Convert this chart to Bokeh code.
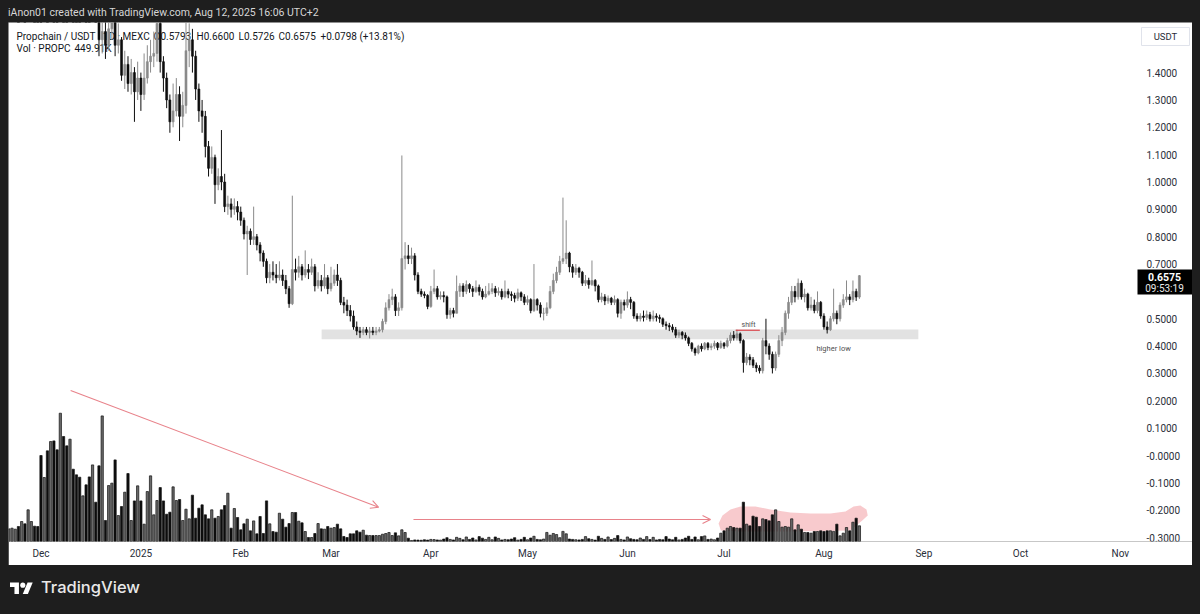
import pandas as pd
from bokeh.plotting import figure
from bokeh.models import (Range1d, FixedTicker, Arrow, OpenHead, Div, ColumnDataSource)
from bokeh.layouts import column
from bokeh.embed import file_html
from bokeh.resources import INLINE
from bokeh.core.properties import value

# ---------------- data (daily candles, 2024-11-21 .. 2025-08-12) ----------------
first_day = "2024-11-21"
first_open = 1.95
closes = [
    2.05, 2.25, 2.40, 2.30, 2.55, 2.45, 2.70, 2.85, 2.60, 2.50,
    2.35, 2.45, 2.20, 2.30, 2.10, 2.00, 2.15, 1.95, 1.90, 2.05,
    1.88, 1.82, 1.78, 1.86, 1.74, 1.70, 1.78, 1.65, 1.52, 1.55,
    1.50, 1.56, 1.60, 1.50, 1.52, 1.39, 1.43, 1.36, 1.40, 1.33,
    1.38, 1.32, 1.38, 1.44, 1.46, 1.47, 1.58, 1.44, 1.38, 1.30,
    1.22, 1.26, 1.32, 1.24, 1.28, 1.48, 1.52, 1.46, 1.34, 1.26,
    1.24, 1.13, 1.05, 1.09, 0.99, 1.02, 1.00, 0.91, 0.92, 0.90,
    0.91, 0.89, 0.86, 0.81, 0.82, 0.79, 0.80, 0.77, 0.74, 0.71,
    0.65, 0.67, 0.66, 0.65, 0.66, 0.64, 0.61, 0.555, 0.68, 0.67,
    0.69, 0.66, 0.68, 0.67, 0.69, 0.62, 0.64, 0.62, 0.65, 0.61,
    0.63, 0.66, 0.64, 0.56, 0.55, 0.53, 0.51, 0.47, 0.455, 0.45,
    0.46, 0.45, 0.455, 0.45, 0.455, 0.46, 0.49, 0.54, 0.57, 0.58,
    0.53, 0.54, 0.72, 0.73, 0.72, 0.73, 0.66, 0.60, 0.59, 0.585,
    0.545, 0.60, 0.61, 0.58, 0.585, 0.58, 0.515, 0.53, 0.52, 0.60,
    0.62, 0.60, 0.625, 0.61, 0.60, 0.615, 0.60, 0.58, 0.59, 0.60,
    0.61, 0.595, 0.60, 0.58, 0.60, 0.59, 0.585, 0.575, 0.595, 0.58,
    0.56, 0.57, 0.53, 0.57, 0.55, 0.52, 0.52, 0.54, 0.60, 0.64,
    0.67, 0.71, 0.72, 0.74, 0.69, 0.67, 0.685, 0.67, 0.63, 0.64,
    0.625, 0.64, 0.62, 0.57, 0.58, 0.565, 0.575, 0.56, 0.57, 0.52,
    0.56, 0.55, 0.57, 0.56, 0.51, 0.50, 0.51, 0.505, 0.515, 0.50,
    0.51, 0.505, 0.50, 0.48, 0.475, 0.47, 0.46, 0.44, 0.45, 0.44,
    0.43, 0.41, 0.39, 0.375, 0.40, 0.39, 0.41, 0.395, 0.40, 0.41,
    0.395, 0.41, 0.40, 0.42, 0.44, 0.43, 0.445, 0.42, 0.34, 0.36,
    0.35, 0.33, 0.32, 0.31, 0.42, 0.40, 0.37, 0.32, 0.37, 0.42,
    0.45, 0.52, 0.56, 0.60, 0.58, 0.63, 0.58, 0.59, 0.54, 0.55,
    0.53, 0.56, 0.51, 0.47, 0.46, 0.50, 0.52, 0.50, 0.55, 0.57,
    0.58, 0.57, 0.60, 0.5793, 0.6575,
]
highs = [
    2.15, 2.35, 2.55, 2.50, 2.70, 2.65, 2.85, 3.05, 2.90, 2.70,
    2.60, 2.58, 2.50, 2.42, 2.35, 2.18, 2.25, 2.20, 2.02, 2.12,
    2.08, 1.95, 1.90, 1.95, 1.90, 1.80, 1.86, 1.80, 1.68, 1.62,
    1.60, 1.62, 1.66, 1.62, 1.58, 1.53, 1.48, 1.46, 1.45, 1.42,
    1.44, 1.40, 1.47, 1.50, 1.52, 1.55, 1.66, 1.60, 1.46, 1.40,
    1.32, 1.36, 1.38, 1.35, 1.33, 1.60, 1.58, 1.56, 1.48, 1.36,
    1.30, 1.26, 1.15, 1.13, 1.10, 1.05, 1.19, 1.03, 0.95, 0.94,
    0.94, 0.93, 0.91, 0.87, 0.84, 0.83, 0.91, 0.81, 0.78, 0.75,
    0.72, 0.70, 0.71, 0.70, 0.71, 0.68, 0.66, 0.62, 0.95, 0.72,
    0.73, 0.70, 0.75, 0.70, 0.72, 0.70, 0.67, 0.66, 0.70, 0.66,
    0.69, 0.68, 0.70, 0.65, 0.58, 0.57, 0.55, 0.53, 0.49, 0.47,
    0.47, 0.47, 0.47, 0.47, 0.47, 0.47, 0.50, 0.56, 0.59, 0.61,
    0.59, 0.56, 1.097, 0.78, 0.77, 0.76, 0.74, 0.67, 0.61, 0.60,
    0.59, 0.62, 0.68, 0.62, 0.60, 0.60, 0.585, 0.54, 0.54, 0.658,
    0.63, 0.63, 0.64, 0.63, 0.62, 0.64, 0.625, 0.61, 0.62, 0.63,
    0.63, 0.62, 0.615, 0.61, 0.64, 0.61, 0.60, 0.595, 0.61, 0.60,
    0.59, 0.585, 0.575, 0.70, 0.575, 0.56, 0.54, 0.56, 0.62, 0.665,
    0.69, 0.73, 0.943, 0.86, 0.745, 0.70, 0.70, 0.69, 0.675, 0.66,
    0.65, 0.713, 0.645, 0.625, 0.595, 0.59, 0.585, 0.58, 0.585, 0.575,
    0.57, 0.57, 0.60, 0.58, 0.565, 0.52, 0.52, 0.53, 0.53, 0.525,
    0.53, 0.52, 0.515, 0.505, 0.49, 0.485, 0.48, 0.47, 0.46, 0.455,
    0.45, 0.435, 0.415, 0.395, 0.405, 0.41, 0.415, 0.415, 0.41, 0.42,
    0.415, 0.42, 0.415, 0.43, 0.45, 0.455, 0.46, 0.45, 0.425, 0.375,
    0.37, 0.36, 0.34, 0.33, 0.43, 0.50, 0.41, 0.38, 0.38, 0.44,
    0.47, 0.53, 0.58, 0.62, 0.62, 0.647, 0.64, 0.61, 0.595, 0.58,
    0.57, 0.60, 0.565, 0.52, 0.49, 0.51, 0.61, 0.53, 0.56, 0.59,
    0.64, 0.59, 0.64, 0.61, 0.66,
]
lows = [
    1.92, 2.00, 2.20, 2.22, 2.25, 2.38, 2.40, 2.62, 2.52, 2.40,
    2.25, 2.28, 2.10, 2.12, 2.02, 1.92, 1.95, 1.88, 1.80, 1.85,
    1.80, 1.74, 1.70, 1.74, 1.68, 1.64, 1.66, 1.61, 1.46, 1.47,
    1.45, 1.48, 1.52, 1.46, 1.47, 1.37, 1.34, 1.33, 1.32, 1.22,
    1.30, 1.26, 1.30, 1.36, 1.40, 1.42, 1.44, 1.40, 1.33, 1.27,
    1.18, 1.20, 1.24, 1.15, 1.20, 1.25, 1.42, 1.40, 1.30, 1.22,
    1.18, 1.09, 1.02, 1.03, 0.92, 0.97, 0.97, 0.89, 0.88, 0.87,
    0.88, 0.86, 0.84, 0.79, 0.66, 0.77, 0.77, 0.75, 0.71, 0.69,
    0.63, 0.63, 0.64, 0.63, 0.64, 0.62, 0.59, 0.54, 0.55, 0.64,
    0.65, 0.64, 0.65, 0.645, 0.66, 0.60, 0.61, 0.60, 0.61, 0.59,
    0.60, 0.62, 0.62, 0.55, 0.52, 0.51, 0.49, 0.46, 0.44, 0.43,
    0.44, 0.44, 0.428, 0.44, 0.44, 0.45, 0.45, 0.48, 0.53, 0.55,
    0.51, 0.51, 0.53, 0.68, 0.70, 0.70, 0.64, 0.59, 0.58, 0.575,
    0.535, 0.54, 0.59, 0.57, 0.57, 0.56, 0.50, 0.50, 0.505, 0.52,
    0.58, 0.58, 0.59, 0.595, 0.58, 0.595, 0.585, 0.57, 0.575, 0.585,
    0.59, 0.58, 0.585, 0.57, 0.575, 0.575, 0.565, 0.56, 0.565, 0.565,
    0.55, 0.55, 0.52, 0.525, 0.53, 0.505, 0.494, 0.51, 0.535, 0.59,
    0.63, 0.66, 0.70, 0.70, 0.67, 0.65, 0.66, 0.65, 0.62, 0.62,
    0.61, 0.62, 0.60, 0.56, 0.56, 0.55, 0.555, 0.55, 0.55, 0.505,
    0.50, 0.53, 0.54, 0.535, 0.50, 0.49, 0.49, 0.49, 0.495, 0.49,
    0.49, 0.49, 0.485, 0.47, 0.46, 0.455, 0.45, 0.43, 0.43, 0.425,
    0.42, 0.40, 0.38, 0.365, 0.37, 0.38, 0.385, 0.385, 0.385, 0.39,
    0.385, 0.39, 0.39, 0.395, 0.41, 0.42, 0.42, 0.41, 0.303, 0.33,
    0.33, 0.32, 0.305, 0.30, 0.30, 0.37, 0.35, 0.30, 0.31, 0.36,
    0.40, 0.44, 0.50, 0.55, 0.56, 0.57, 0.57, 0.56, 0.53, 0.53,
    0.52, 0.52, 0.50, 0.46, 0.446, 0.455, 0.49, 0.48, 0.49, 0.54,
    0.56, 0.55, 0.56, 0.565, 0.5726,
]
volumes_k = [
    362, 382, 353, 430, 573, 506, 908, 573, 439, 430,
    2464, 1834, 2598, 2865, 2884, 2627, 3677, 3009, 2741, 2932,
    2072, 1910, 1843, 1308, 1623, 1852, 2196, 1126, 2168, 3600,
    602, 1604, 1672, 2339, 744, 1002, 1413, 1948, 602, 1164,
    1595, 1164, 497, 1432, 1881, 764, 1175, 1546, 1164, 782,
    840, 1566, 1175, 1203, 602, 926, 649, 1328, 668, 955,
    1050, 764, 649, 908, 668, 717, 908, 1031, 1384, 382,
    946, 688, 335, 506, 640, 306, 591, 220, 717, 229,
    1164, 506, 286, 267, 811, 640, 411, 515, 831, 831,
    582, 535, 286, 115, 115, 229, 515, 362, 353, 430,
    382, 400, 497, 362, 144, 115, 220, 220, 306, 267,
    324, 182, 171, 171, 171, 171, 209, 229, 258, 171,
    248, 162, 335, 258, 95, 29,
    45, 40, 35, 50, 40, 60, 55, 45, 40, 70,
    110, 60, 45, 120, 90, 50, 130, 60, 100, 45,
    140, 95, 60, 120, 50, 130, 90, 45, 60, 50,
    70, 110, 40, 60, 120, 50, 100, 150, 60, 50,
    70, 260, 180, 230, 200, 110, 290, 220, 70, 60,
    50, 45, 60, 140, 80, 60, 40, 150, 90, 60,
    130, 55, 90, 170, 60, 45, 130, 80, 60, 50,
    100, 60, 140, 55, 120, 45, 60, 50, 140, 70,
    50, 120, 45, 60, 100, 150, 60, 130, 50, 140,
    160, 60, 70, 50, 100,
    238, 306, 382, 430, 401, 382, 382, 1127, 497, 449,
    726, 697, 430, 649, 630, 592, 764, 907, 573, 411,
    430, 411, 649, 334, 477, 353, 258, 258, 239, 287,
    287, 306, 287, 306, 306, 290, 497, 162, 239, 401,
    306, 553, 668, 449.91,
]
month_ticks = ["2024-12-01", "2025-01-01", "2025-02-01", "2025-03-01", "2025-04-01",
               "2025-05-01", "2025-06-01", "2025-07-01", "2025-08-01", "2025-09-01",
               "2025-10-01", "2025-11-01"]
month_labels = ["Dec", "2025", "Feb", "Mar", "Apr", "May", "Jun", "Jul", "Aug", "Sep",
                "Oct", "Nov"]
price_ticks = [1.4, 1.3, 1.2, 1.1, 1.0, 0.9, 0.8, 0.7, 0.5, 0.4, 0.3, 0.2, 0.1, 0.0,
               -0.1, -0.2, -0.3]
price_labels = ["1.4000", "1.3000", "1.2000", "1.1000", "1.0000", "0.9000", "0.8000",
                "0.7000", "0.5000", "0.4000", "0.3000", "0.2000", "0.1000", "-0.0000",
                "-0.1000", "-0.2000", "-0.3000"]
last_price = "0.6575"
countdown = "09:53:19"

n = len(closes)
if not (len(highs) == n and len(lows) == n and len(volumes_k) == n):
    raise SystemExit(f"length mismatch {n} {len(highs)} {len(lows)} {len(volumes_k)}")

dates = pd.date_range(first_day, periods=n, freq="D")
opens = [first_open] + closes[:-1]
UP, DOWN = "#8a8a8a", "#0d0d0d"
VUP, VDOWN = "#6a6a6a", "#0d0d0d"
is_up = [c >= o for o, c in zip(opens, closes)]
src = ColumnDataSource(dict(
    date=dates, open=opens, close=closes, high=highs, low=lows, vol=volumes_k,
    top=[max(o, c) for o, c in zip(opens, closes)],
    bot=[min(o, c) for o, c in zip(opens, closes)],
    color=[UP if u else DOWN for u in is_up],
    vcolor=[VUP if u else VDOWN for u in is_up],
))

D0 = pd.Timestamp("2024-12-01")
DAY = 86400000


def ms(d):
    return int((D0 + pd.Timedelta(days=d)).value // 10**6)


def px_to_day(x):
    # horizontal page pixel -> days since 2024-12-01
    return (x - 40.5) / 3.222


BG = "#1e1e1e"
TXT = "#2a2e39"
FONT = "Roboto"

p = figure(width=1184, height=543, x_axis_type="datetime", y_axis_location=None,
           x_range=Range1d(ms(px_to_day(8)), ms(px_to_day(1192))),
           y_range=Range1d(-0.3144, 1.5832),
           output_backend="svg", toolbar_location=None,
           min_border_left=0, min_border_right=0, min_border_top=0, min_border_bottom=24,
           background_fill_color="white", border_fill_color="white",
           outline_line_color=None, margin=(0, 8, 0, 8))
p.grid.visible = False
p.extra_y_ranges = {"vol": Range1d(0, 14875)}

# time axis
tick_ms = [int(pd.Timestamp(t).value // 10**6) for t in month_ticks]
p.xaxis.ticker = FixedTicker(ticks=tick_ms)
p.xaxis.major_label_overrides = {t: l for t, l in zip(tick_ms, month_labels)}
p.xaxis.axis_line_color = None
p.xaxis.major_tick_line_color = None
p.xaxis.minor_tick_line_color = None
p.xaxis.major_tick_out = 0
p.xaxis.major_tick_in = 0
p.xaxis.major_label_standoff = 6
p.xaxis.major_label_text_font = FONT
p.xaxis.major_label_text_font_size = "10px"
p.xaxis.major_label_text_color = TXT

# support zone band
p.quad(left=[ms(87.1)], right=[ms(272.3)], bottom=[0.425], top=[0.461],
       fill_color="#e2e2e2", line_color=None)

# pink highlight behind recent volume
blob_d = [210.3, 211.5, 214, 217.1, 221.7, 226.4, 232.6, 238.8, 245, 249.7, 252.2,
          254.3, 256.2, 256.6, 254.9, 251.2, 232.6, 217.1, 211]
blob_v = [516, 745, 917, 1003, 1003, 917, 831, 802, 802, 860, 1003,
          1032, 917, 745, 602, 315, 287, 287, 315]
p.patch([ms(d) for d in blob_d], blob_v, y_range_name="vol",
        fill_color="#f7c4c8", fill_alpha=0.9, line_color=None)

# volume bars
p.vbar(x="date", width=0.7 * DAY, top="vol", bottom=0, source=src, y_range_name="vol",
       fill_color="vcolor", line_color="#111111", line_width=0.7)

# legend text (drawn under candles like the original overlay)
leg1_x = [16, 153, 196, 238, 278, 320]
leg1_t = ["Propchain / USDT · 1D · MEXC", "O0.5793", "H0.6600", "L0.5726", "C0.6575",
          "+0.0798 (+13.81%)"]
leg2_x = [16, 74]
leg2_t = ["Vol · PROPC", "449.91K"]
p.text(x=[ms(px_to_day(x)) for x in leg1_x], y=[1.532] * len(leg1_x), text=leg1_t,
       text_font=value(FONT), text_font_size="10px", text_color="#131722",
       text_baseline="middle", text_align="left")
p.text(x=[ms(px_to_day(x)) for x in leg2_x], y=[1.488] * len(leg2_x), text=leg2_t,
       text_font=value(FONT), text_font_size="10px", text_color="#131722",
       text_baseline="middle", text_align="left")

# candles
p.segment(x0="date", x1="date", y0="high", y1="low", source=src, line_color="color",
          line_width=1)
p.vbar(x="date", width=0.62 * DAY, top="top", bottom="bot", source=src,
       fill_color="color", line_color="color", line_width=0.6)

# annotations
p.segment(x0=[ms(215.6)], y0=[0.458], x1=[ms(223.1)], y1=[0.458],
          line_color="#d9434a", line_width=1.2)
p.text(x=[ms(219.6)], y=[0.479], text=["shift"], text_font=value(FONT),
       text_font_size="7px", text_color="#505050", text_align="center",
       text_baseline="middle")
p.text(x=[ms(246)], y=[0.391], text=["higher low"], text_font=value(FONT),
       text_font_size="7.5px", text_color="#505050", text_align="center",
       text_baseline="middle")

ARROW = "#e8828a"
p.add_layout(Arrow(x_start=ms(9.2), y_start=4330, x_end=ms(104.8), y_end=980,
                   y_range_name="vol", line_color=ARROW, line_width=1.1,
                   end=OpenHead(size=8, line_color=ARROW, line_width=1.1)))
p.add_layout(Arrow(x_start=ms(115.6), y_start=630, x_end=ms(207.8), y_end=630,
                   y_range_name="vol", line_color=ARROW, line_width=1.1,
                   end=OpenHead(size=8, line_color=ARROW, line_width=1.1)))

# price scale (drawn inside the extended frame on the right)
p.text(x=[ms(px_to_day(1146))] * len(price_ticks), y=price_ticks, text=price_labels,
       text_font=value(FONT), text_font_size="10px", text_color=TXT,
       text_align="left", text_baseline="middle")
# currency box
p.quad(left=[ms(px_to_day(1141))], right=[ms(px_to_day(1189))], bottom=[1.499],
       top=[1.565], fill_color="white", line_color="#e0e3eb", line_width=1)
p.text(x=[ms(px_to_day(1165))], y=[1.532], text=["USDT"], text_font=value(FONT),
       text_font_size="9.5px", text_color=TXT, text_align="center",
       text_baseline="middle")
# last-price tag
p.quad(left=[ms(px_to_day(1137))], right=[ms(px_to_day(1192))], bottom=[0.589],
       top=[0.680], fill_color="black", line_color=None)
p.text(x=[ms(px_to_day(1164))], y=[0.654], text=[last_price], text_font=value(FONT),
       text_font_size="10.5px", text_font_style="bold", text_color="white",
       text_align="center", text_baseline="middle")
p.text(x=[ms(px_to_day(1164))], y=[0.611], text=[countdown], text_font=value(FONT),
       text_font_size="10px", text_color="#e8e8e8", text_align="center",
       text_baseline="middle")

header = Div(
    text=('<div style="height:22px;padding:7px 0 0 8px;box-sizing:border-box;'
          "line-height:12px;font-family:Roboto;font-size:10.5px;color:#d6d6d6;"
          'white-space:nowrap">'
          "iAnon01 created with TradingView.com, Aug 12, 2025 16:06 UTC+2</div>"),
    width=1200, height=22, margin=0, styles={"background-color": BG})

footer = Div(
    text=('<div style="position:relative;height:49px;width:1200px">'
          '<svg style="position:absolute;left:10px;top:15px" width="23" height="18" '
          'viewBox="0 0 36 28"><path d="M14 22H7V11H0V4h14v18z" fill="#ffffff"/>'
          '<circle cx="20" cy="8" r="4" fill="#ffffff"/>'
          '<path d="M28 22h-8l7.5-18h8L28 22z" fill="#ffffff"/></svg>'
          '<span style="position:absolute;left:41px;top:14px;line-height:17px;'
          'font-family:Inter;font-weight:500;font-size:16.5px;color:#e8e8e8">'
          'TradingView</span></div>'),
    width=1200, height=49, margin=0, styles={"background-color": BG})

layout = column(header, p, footer, spacing=0)

template = ("{% block preamble %}<style>html, body { background-color: #1e1e1e; }"
            "</style>{% endblock %}")
open("out.html", "w").write(file_html(layout, INLINE, title="Propchain / USDT",
                                      template=template))
